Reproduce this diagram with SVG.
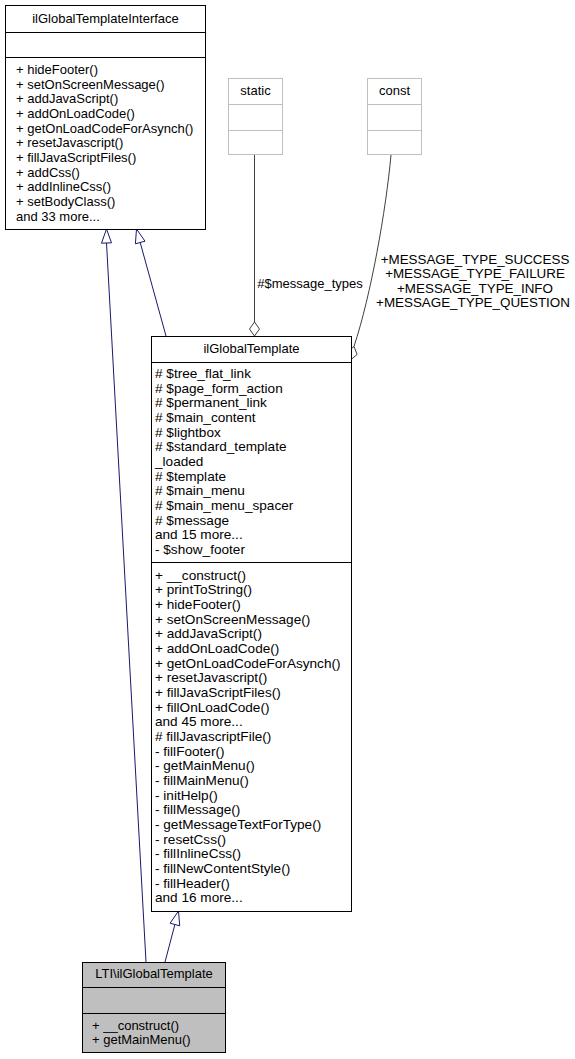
<svg xmlns="http://www.w3.org/2000/svg" width="575" height="1059" viewBox="0 0 575 1059">
<style>
text{font-family:"Liberation Sans",Arial,sans-serif;font-size:13px;fill:#000}
.c{text-anchor:middle}
.w{font-size:13.6px}
.m{font-size:13.4px}
.box{fill:#fff;stroke:#000;stroke-width:1}
.gbox{fill:#fff;stroke:#bfbfbf;stroke-width:1}
.sel{fill:#bfbfbf;stroke:#000;stroke-width:1}
.ln{stroke:#000;stroke-width:1}
.gln{stroke:#bfbfbf;stroke-width:1}
.inh{stroke:#191970;stroke-width:1;fill:none}
.tri{stroke:#191970;stroke-width:1;fill:#fff}
.use{stroke:#404040;stroke-width:1;fill:none}
.dia{stroke:#404040;stroke-width:1;fill:#fff}
</style>
<rect width="575" height="1059" fill="#fff"/>
<g id="connectors">
<line class="inh" x1="146" y1="962" x2="106.5" y2="243"/>
<polygon class="tri" points="106.5,229 101.5,243.2 111.5,242.8"/>
<line class="inh" x1="166" y1="336" x2="140.2" y2="242.5"/>
<polygon class="tri" points="136.5,229 135.4,243.8 145,241.2"/>
<line class="inh" x1="165" y1="962" x2="174.9" y2="924.5"/>
<polygon class="tri" points="178.5,911 170.1,923.2 179.7,925.8"/>
<line class="use" x1="254.5" y1="154" x2="254.5" y2="322"/>
<polygon class="dia" points="254.5,336 249.5,329 254.5,322 259.5,329"/>
<text class="c" x="310" y="287.5">#$message_types</text>
<path class="use" d="M391,155 C386,210 371,295 354,346.4"/>
<polygon class="dia" points="350.5,360 347.4,352 354,346.4 357.1,354.4"/>
<text class="c m" x="475" y="263.5">+MESSAGE_TYPE_SUCCESS</text>
<text class="c m" x="475" y="278">+MESSAGE_TYPE_FAILURE</text>
<text class="c m" x="475" y="292.5">+MESSAGE_TYPE_INFO</text>
<text class="c m" x="473" y="307">+MESSAGE_TYPE_QUESTION</text>
</g>
<g id="ilGlobalTemplateInterface">
<rect class="box" x="5.5" y="5.5" width="200" height="224"/>
<line class="ln" x1="5.5" y1="32.5" x2="205.5" y2="32.5"/>
<line class="ln" x1="5.5" y1="57.5" x2="205.5" y2="57.5"/>
<text class="c" x="105.5" y="23">ilGlobalTemplateInterface</text>
<text x="16" y="74">+ hideFooter()</text>
<text x="16" y="88.7">+ setOnScreenMessage()</text>
<text x="16" y="103.3">+ addJavaScript()</text>
<text x="16" y="118">+ addOnLoadCode()</text>
<text x="16" y="132.7">+ getOnLoadCodeForAsynch()</text>
<text x="16" y="147.3">+ resetJavascript()</text>
<text x="16" y="162">+ fillJavaScriptFiles()</text>
<text x="16" y="176.7">+ addCss()</text>
<text x="16" y="191.3">+ addInlineCss()</text>
<text x="16" y="206">+ setBodyClass()</text>
<text x="16" y="220.7">and 33 more...</text>
</g>
<g id="static">
<rect class="gbox" x="228.5" y="78.5" width="54" height="76"/>
<line class="gln" x1="228.5" y1="104.5" x2="282.5" y2="104.5"/>
<line class="gln" x1="228.5" y1="130.5" x2="282.5" y2="130.5"/>
<text class="c" x="255.5" y="95">static</text>
</g>
<g id="const">
<rect class="gbox" x="367.5" y="78.5" width="54" height="76"/>
<line class="gln" x1="367.5" y1="104.5" x2="421.5" y2="104.5"/>
<line class="gln" x1="367.5" y1="130.5" x2="421.5" y2="130.5"/>
<text class="c" x="394.5" y="95">const</text>
</g>
<g id="ilGlobalTemplate">
<rect class="box" x="151.5" y="336.5" width="200" height="575"/>
<line class="ln" x1="151.5" y1="362.5" x2="351.5" y2="362.5"/>
<line class="ln" x1="151.5" y1="562.5" x2="351.5" y2="562.5"/>
<text class="c" x="251.5" y="353">ilGlobalTemplate</text>
<g class="w">
<text class="w" x="155" y="378"># $tree_flat_link</text>
<text class="w" x="155" y="392.7"># $page_form_action</text>
<text class="w" x="155" y="407.3"># $permanent_link</text>
<text class="w" x="155" y="422"># $main_content</text>
<text class="w" x="155" y="436.7"># $lightbox</text>
<text class="w" x="155" y="451.3"># $standard_template</text>
<text class="w" x="155" y="466">_loaded</text>
<text class="w" x="155" y="480.7"># $template</text>
<text class="w" x="155" y="495.3"># $main_menu</text>
<text class="w" x="155" y="510"># $main_menu_spacer</text>
<text class="w" x="155" y="524.7"># $message</text>
<text class="w" x="155" y="539.3">and 15 more...</text>
<text class="w" x="155" y="554">- $show_footer</text>
<text class="w" x="155" y="579.5">+ __construct()</text>
<text class="w" x="155" y="594.2">+ printToString()</text>
<text class="w" x="155" y="608.8">+ hideFooter()</text>
<text class="w" x="155" y="623.5">+ setOnScreenMessage()</text>
<text class="w" x="155" y="638.2">+ addJavaScript()</text>
<text class="w" x="155" y="652.8">+ addOnLoadCode()</text>
<text class="w" x="155" y="667.5">+ getOnLoadCodeForAsynch()</text>
<text class="w" x="155" y="682.2">+ resetJavascript()</text>
<text class="w" x="155" y="696.8">+ fillJavaScriptFiles()</text>
<text class="w" x="155" y="711.5">+ fillOnLoadCode()</text>
<text class="w" x="155" y="726.2">and 45 more...</text>
<text class="w" x="155" y="740.8"># fillJavascriptFile()</text>
<text class="w" x="155" y="755.5">- fillFooter()</text>
<text class="w" x="155" y="770.2">- getMainMenu()</text>
<text class="w" x="155" y="784.8">- fillMainMenu()</text>
<text class="w" x="155" y="799.5">- initHelp()</text>
<text class="w" x="155" y="814.2">- fillMessage()</text>
<text class="w" x="155" y="828.8">- getMessageTextForType()</text>
<text class="w" x="155" y="843.5">- resetCss()</text>
<text class="w" x="155" y="858.2">- fillInlineCss()</text>
<text class="w" x="155" y="872.8">- fillNewContentStyle()</text>
<text class="w" x="155" y="887.5">- fillHeader()</text>
<text class="w" x="155" y="902.2">and 16 more...</text>
</g>
</g>
<g id="LTI_ilGlobalTemplate">
<rect class="sel" x="82.5" y="962.5" width="143" height="90"/>
<line class="ln" x1="82.5" y1="987.5" x2="225.5" y2="987.5"/>
<line class="ln" x1="82.5" y1="1013.5" x2="225.5" y2="1013.5"/>
<text class="c" x="154" y="977.5">LTI\ilGlobalTemplate</text>
<text x="92" y="1029.5">+ __construct()</text>
<text x="92" y="1044.2">+ getMainMenu()</text>
</g>
</svg>
